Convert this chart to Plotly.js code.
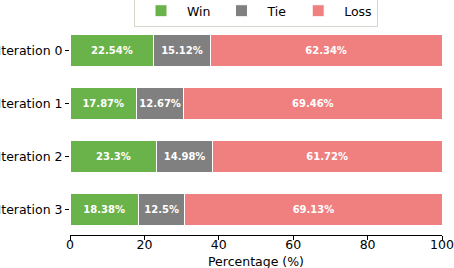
<!DOCTYPE html>
<html><head><meta charset="utf-8">
<script src="https://cdn.plot.ly/plotly-3.0.1.min.js"></script>
<style>html,body{margin:0;padding:0;background:#fff}#chart{width:454px;height:268px}</style>
</head><body><div id="chart"></div>
<script>
var categories = ["Iteration 0", "Iteration 1", "Iteration 2", "Iteration 3"];
var winValues = [22.54, 17.87, 23.3, 18.38];
var tieValues = [15.12, 12.67, 14.98, 12.5];
var lossValues = [62.34, 69.46, 61.72, 69.13];
var xTicks = [0, 20, 40, 60, 80, 100];
var xTitle = 'Percentage (%)';

function mk(name, vals, color) {
  return {
    type: 'bar', orientation: 'h', name: name, y: categories, x: vals,
    marker: {color: color, line: {color: '#ffffff', width: 1}},
    texttemplate: '%{x}%', textposition: 'inside', insidetextanchor: 'middle',
    textangle: 0, constraintext: 'none',
    textfont: {family: 'DejaVu Sans', size: 10, color: '#ffffff', weight: 'bold'},
    hoverinfo: 'none'
  };
}
var data = [mk('Win', winValues, '#6ab34a'), mk('Tie', tieValues, '#808080'), mk('Loss', lossValues, '#f08080')];
var layout = {
  width: 454, height: 268,
  margin: {l: 69.5, r: 12, t: 25, b: 33, autoexpand: false},
  barmode: 'stack', bargap: 0.4,
  paper_bgcolor: '#fff', plot_bgcolor: '#fff',
  font: {family: 'DejaVu Sans', size: 12.5, color: '#000'},
  showlegend: true,
  legend: {orientation: 'h', x: 0.5, xanchor: 'center', y: 0.99, yanchor: 'bottom',
    bordercolor: '#d9d4cc', borderwidth: 1, font: {size: 12.5}, traceorder: 'normal',
    itemwidth: 42},
  xaxis: {range: [0, 100], tickvals: xTicks, showgrid: false, zeroline: false,
    showline: true, linecolor: '#000', linewidth: 1, ticks: 'outside', ticklen: 4,
    tickcolor: '#000', automargin: false, ticklabelstandoff: -6},
  yaxis: {range: [3.48, -0.48], showgrid: false, zeroline: false, showline: false,
    automargin: false, ticks: 'outside', ticklen: 4, tickcolor: '#000'},
  annotations: [{text: xTitle, xref: 'paper', yref: 'paper', x: 0.5, y: -0.124,
    xanchor: 'center', yanchor: 'middle', showarrow: false, font: {size: 12.5}}]
};
Plotly.newPlot('chart', data, layout, {displayModeBar: false, staticPlot: true});
</script></body></html>
